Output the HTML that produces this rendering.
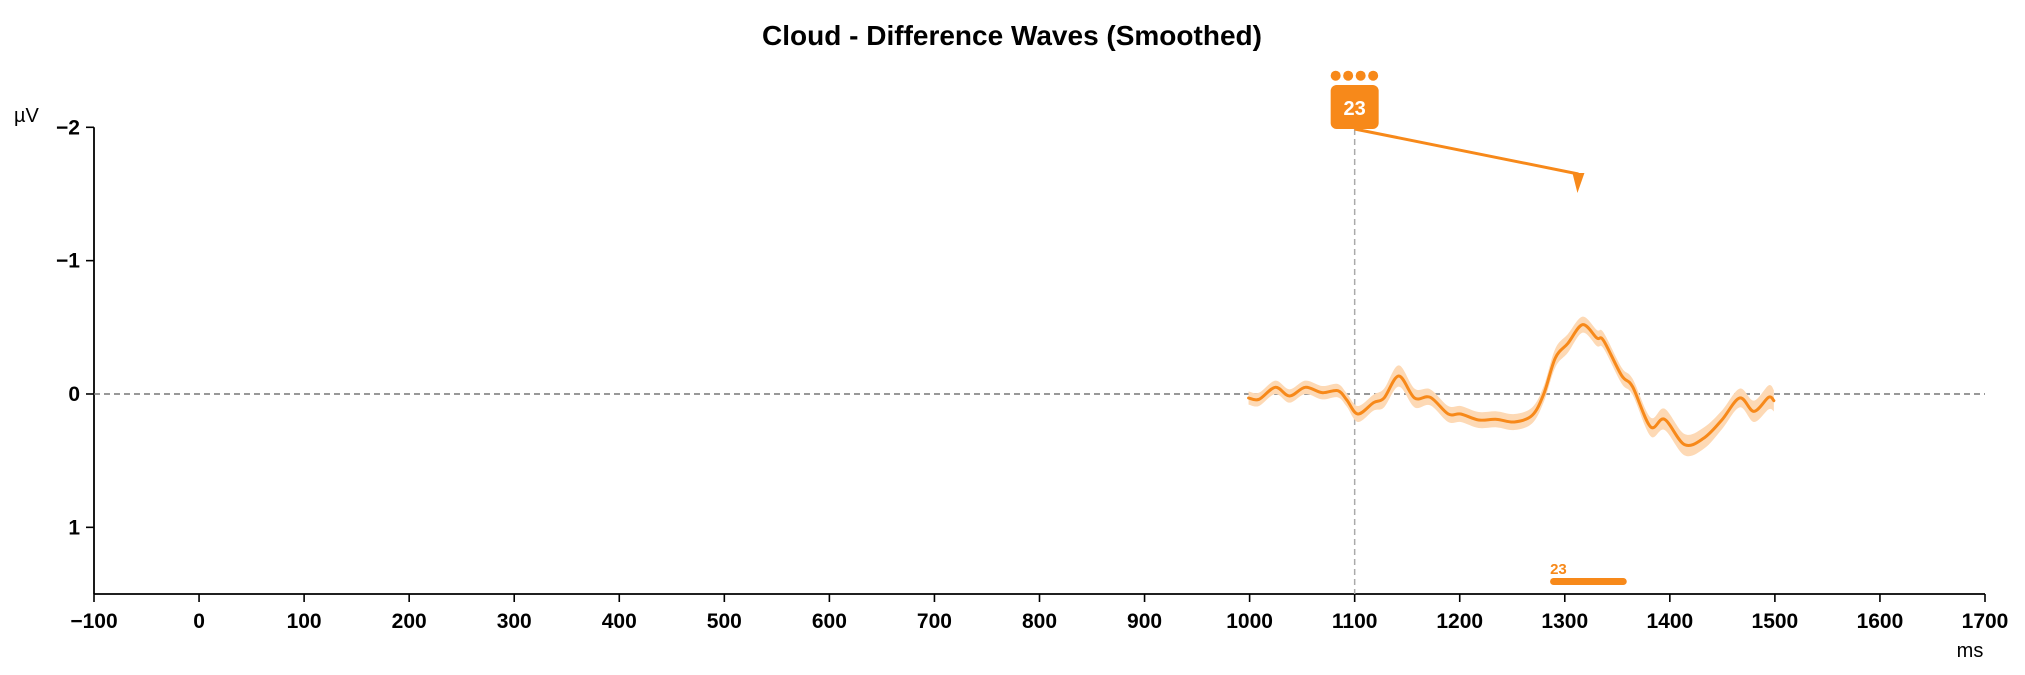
<!DOCTYPE html>
<html><head><meta charset="utf-8">
<style>
html,body{margin:0;padding:0;background:#fff;}
svg{display:block;font-family:"Liberation Sans",Arial,sans-serif;}
</style></head>
<body>
<svg id="chart" width="2025" height="675" viewBox="0 0 2025 675">
<text x="1012" y="45" text-anchor="middle" font-size="28" font-weight="bold">Cloud - Difference Waves (Smoothed)</text>
<g id="axes"></g>
<g id="marks"></g>
</svg>
<script>
const xTicks = [-100,0,100,200,300,400,500,600,700,800,900,1000,1100,1200,1300,1400,1500,1600,1700];
const yTicks = [-2,-1,0,1];
const yTickLabels = ["\u22122","\u22121","0","1"];
const times = [999,1009,1024.5,1038,1053,1069,1084,1092.5,1103,1118,1128,1142,1157,1172,1189,1201,1218,1235,1252,1269,1280,1291,1303,1317,1330.5,1337,1354,1364.5,1381.5,1395,1414,1432.5,1449.5,1466.5,1480,1494,1499];
const values = [0.03,0.04,-0.05,0.015,-0.05,-0.01,-0.025,0.045,0.15,0.065,0.03,-0.135,0.03,0.025,0.15,0.15,0.195,0.19,0.21,0.16,0,-0.27,-0.38,-0.52,-0.42,-0.40,-0.14,-0.055,0.245,0.19,0.38,0.33,0.195,0.03,0.13,0.025,0.05];
const sems = [0.05,0.05,0.05,0.05,0.05,0.05,0.05,0.05,0.06,0.06,0.07,0.08,0.07,0.06,0.06,0.06,0.06,0.06,0.06,0.06,0.06,0.07,0.07,0.06,0.06,0.06,0.06,0.06,0.07,0.08,0.08,0.08,0.07,0.07,0.08,0.09,0.08];
const markerTime = 1100;
const peakTime = 1313;
const peakValue = -1.65;
const sigStart = [1286];
const sigEnd = [1359];
const sigLabel = ["23"];

const NS = "http://www.w3.org/2000/svg";
const X0 = 94, X1 = 1985, Y0 = 127.3, Y1 = 594;
const xMin = -100, xMax = 1700, yMin = -2, yMax = 1.5;
function xs(t){ return X0 + (t - xMin) / (xMax - xMin) * (X1 - X0); }
function ys(v){ return Y0 + (v - yMin) / (yMax - yMin) * (Y1 - Y0); }
function mk(tag, attrs, parent){
  const e = document.createElementNS(NS, tag);
  for (const k in attrs) e.setAttribute(k, attrs[k]);
  parent.appendChild(e); return e;
}
function smooth(pts, start){
  let d = start ? 'M' + pts[0][0] + ',' + pts[0][1] : 'L' + pts[0][0] + ',' + pts[0][1];
  for (let i = 0; i < pts.length - 1; i++){
    const p0 = pts[Math.max(i-1,0)], p1 = pts[i], p2 = pts[i+1], p3 = pts[Math.min(i+2,pts.length-1)];
    const c1x = p1[0] + (p2[0]-p0[0])/6, c1y = p1[1] + (p2[1]-p0[1])/6;
    const c2x = p2[0] - (p3[0]-p1[0])/6, c2y = p2[1] - (p3[1]-p1[1])/6;
    d += ' C' + c1x + ',' + c1y + ' ' + c2x + ',' + c2y + ' ' + p2[0] + ',' + p2[1];
  }
  return d;
}
const axes = document.getElementById('axes');
const marks = document.getElementById('marks');

let e;
e = mk('line',{x1:X0,y1:Y0,x2:X0,y2:Y1,stroke:'#000','stroke-width':1.8},axes);


e = mk('line',{x1:X0,y1:Y1,x2:X1,y2:Y1,stroke:'#000','stroke-width':1.8},axes);


xTicks.forEach(t=>{
  const l = mk('line',{x1:xs(t),y1:Y1,x2:xs(t),y2:Y1+8,stroke:'#000','stroke-width':1.6},axes);
  
  
  const tx = mk('text',{x:xs(t),y:Y1+34,'text-anchor':'middle','font-size':21,'font-weight':'bold'},axes);
  tx.textContent = t < 0 ? '\u2212' + Math.abs(t) : String(t);
  
  
});
yTicks.forEach((v,i)=>{
  const l = mk('line',{x1:X0-8,y1:ys(v),x2:X0,y2:ys(v),stroke:'#000','stroke-width':1.6},axes);
  
  
  const tx = mk('text',{x:X0-14,y:ys(v)+7,'text-anchor':'end','font-size':21,'font-weight':'bold'},axes);
  tx.textContent = yTickLabels[i];
  
  
});
e = mk('text',{x:14,y:122,'font-size':20},axes);
e.textContent = '\u00b5V';


e = mk('text',{x:1970,y:657,'text-anchor':'middle','font-size':20},axes);
e.textContent = 'ms';



e = mk('line',{x1:X0,y1:ys(0),x2:X1,y2:ys(0),stroke:'#777','stroke-width':1.5,'stroke-dasharray':'6,4'},marks);


e = mk('line',{x1:xs(markerTime),y1:129,x2:xs(markerTime),y2:Y1,stroke:'#aaa','stroke-width':1.5,'stroke-dasharray':'6,4'},marks);



const upPts = times.map((t,i)=>[xs(t), ys(values[i]-sems[i])]);
const dnPts = times.map((t,i)=>[xs(t), ys(values[i]+sems[i])]).reverse();
e = mk('path',{d:smooth(upPts,true)+' '+smooth(dnPts,false)+' Z',fill:'#fdd9b5',stroke:'none'},marks);


const linePts = times.map((t,i)=>[xs(t), ys(values[i])]);
e = mk('path',{d:smooth(linePts,true),fill:'none',stroke:'#f7891a','stroke-width':3,'stroke-linejoin':'round','stroke-linecap':'round'},marks);



const bx = xs(markerTime);
e = mk('line',{x1:bx,y1:129,x2:xs(peakTime),y2:ys(peakValue),stroke:'#f7891a','stroke-width':3},marks);


const px = xs(peakTime), py = ys(peakValue);
e = mk('polygon',{points:(px-6)+','+(py-1)+' '+(px+6)+','+(py-1)+' '+(px-1)+','+(py+19),fill:'#f7891a'},marks);


e = mk('rect',{x:bx-24,y:85,width:48,height:44,rx:6,fill:'#f7891a'},marks);


e = mk('text',{x:bx,y:115,'text-anchor':'middle','font-size':20,'font-weight':'bold',fill:'#fff'},marks);
e.textContent = '23';


[-19,-6.5,6,18.5].forEach(d=>{
  const c = mk('circle',{cx:bx+d,cy:75.7,r:5,fill:'#f7891a'},marks);
  
  
});
sigStart.forEach((s,i)=>{
  const r = mk('rect',{x:xs(s),y:578,width:xs(sigEnd[i])-xs(s),height:7,rx:3.5,fill:'#f7891a'},marks);
  
  
  const t = mk('text',{x:xs(s),y:574,'font-size':15,'font-weight':'bold',fill:'#f7891a'},marks);
  t.textContent = sigLabel[i];
  
  
});
</script>
</body></html>
